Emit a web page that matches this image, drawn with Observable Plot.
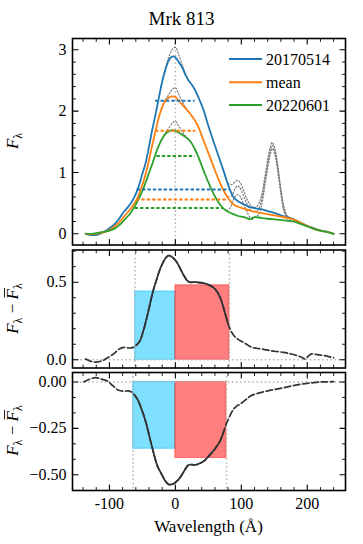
<!DOCTYPE html>
<html><head><meta charset="utf-8">
<script src="https://cdn.jsdelivr.net/npm/d3@7"></script>
<script src="https://cdn.jsdelivr.net/npm/@observablehq/plot@0.6"></script>
<style>
body{margin:0;background:#fff;}
#fig{position:relative;width:363px;height:544px;font-family:"Liberation Serif","DejaVu Serif",serif;color:#000;overflow:hidden;background:#fff;}
#fig .panel{position:absolute;left:0;}
#fig svg, #fig text{font-family:"Liberation Serif","DejaVu Serif",serif !important;}
</style></head><body><div id="fig"></div>
<script>
// ---------- data ----------
const epochs = ["20170514", "mean", "20220601"];
const epochColors = ["#1f77b4", "#ff7f0e", "#2ca02c"];

const spec20170514 = [[-136,0.00],[-128,-0.02],[-120,-0.02],[-110,0.02],[-100,0.09],[-93,0.15],[-85,0.25],[-78,0.36],[-70,0.46],[-63,0.58],[-56,0.76],[-50,0.98],[-45,1.16],[-40,1.42],[-35,1.70],[-30,1.95],[-25,2.22],[-20,2.48],[-15,2.68],[-10,2.83],[-5,2.89],[0,2.88],[5,2.80],[10,2.72],[15,2.60],[20,2.50],[25,2.43],[30,2.34],[36,2.20],[43,2.01],[50,1.76],[58,1.50],[65,1.28],[73,1.03],[80,0.80],[88,0.60],[95,0.53],[104,0.48],[112,0.44],[120,0.42],[130,0.40],[140,0.37],[150,0.34],[160,0.30],[170,0.27],[180,0.23],[190,0.18],[200,0.13],[210,0.09],[220,0.05],[230,0.03],[240,0.00]];
const specMean = [[-136,0.00],[-128,-0.01],[-120,0.00],[-110,0.02],[-100,0.06],[-93,0.11],[-85,0.19],[-78,0.28],[-70,0.38],[-63,0.48],[-56,0.62],[-50,0.80],[-45,0.98],[-40,1.20],[-35,1.45],[-30,1.68],[-25,1.90],[-20,2.07],[-15,2.17],[-10,2.22],[-5,2.24],[0,2.23],[5,2.17],[10,2.11],[15,2.05],[20,1.99],[25,1.92],[30,1.84],[35,1.74],[40,1.60],[45,1.46],[50,1.32],[58,1.09],[65,0.90],[73,0.71],[80,0.58],[88,0.48],[95,0.44],[104,0.41],[112,0.38],[120,0.36],[130,0.34],[140,0.32],[150,0.30],[160,0.28],[170,0.26],[180,0.23],[190,0.18],[200,0.13],[210,0.08],[220,0.05],[230,0.03],[240,0.00]];
const spec20220601 = [[-136,0.00],[-128,0.00],[-120,0.01],[-110,0.03],[-100,0.05],[-93,0.08],[-85,0.14],[-78,0.22],[-70,0.31],[-63,0.42],[-56,0.56],[-50,0.70],[-45,0.84],[-40,0.99],[-35,1.14],[-30,1.30],[-25,1.44],[-20,1.55],[-15,1.63],[-10,1.67],[-5,1.69],[0,1.68],[5,1.65],[10,1.62],[15,1.58],[20,1.54],[25,1.47],[30,1.37],[35,1.25],[40,1.11],[45,0.97],[50,0.84],[58,0.65],[65,0.52],[73,0.41],[80,0.36],[88,0.32],[95,0.29],[104,0.27],[112,0.24],[116,0.24],[120,0.27],[130,0.26],[140,0.245],[150,0.235],[160,0.225],[170,0.21],[180,0.20],[190,0.16],[200,0.12],[210,0.08],[220,0.05],[230,0.03],[240,0.00]];

// total (unsubtracted) spectra where they differ from the solid curves (grey dotted)
const hbTotal20170514 = [[-22,2.40],[-15,2.70],[-10,2.88],[-5,3.00],[0,3.04],[5,2.92],[10,2.77],[15,2.62],[20,2.50]];
const hbTotalMean = [[-22,2.00],[-15,2.19],[-10,2.27],[-5,2.35],[0,2.38],[5,2.28],[10,2.16],[15,2.07],[20,1.99]];
const hbTotal20220601 = [[-22,1.51],[-15,1.65],[-10,1.72],[-5,1.80],[0,1.83],[5,1.76],[10,1.67],[15,1.60],[20,1.54]];
const o3aTotal20170514 = [[80,0.82],[85,0.80],[90,0.84],[94,0.87],[98,0.84],[103,0.72],[108,0.58],[113,0.48],[118,0.43]];
const o3aTotalMean = [[80,0.60],[85,0.62],[90,0.72],[94,0.78],[98,0.75],[103,0.63],[108,0.50],[113,0.40],[118,0.36]];
const o3aTotal20220601 = [[78,0.38],[83,0.42],[88,0.55],[94,0.64],[99,0.60],[104,0.47],[109,0.35],[114,0.26],[118,0.27]];
const o3bTotal20170514 = [[120,0.42],[126,0.48],[131,0.64],[136,0.95],[141,1.27],[144,1.42],[147,1.49],[150,1.42],[153,1.28],[157,0.98],[161,0.66],[165,0.43],[170,0.29],[175,0.26]];
const o3bTotalMean = [[120,0.36],[126,0.40],[131,0.57],[136,0.88],[141,1.20],[144,1.36],[147,1.44],[150,1.37],[153,1.23],[157,0.93],[161,0.62],[165,0.39],[170,0.27],[175,0.25]];
const o3bTotal20220601 = [[120,0.27],[126,0.31],[131,0.48],[136,0.80],[141,1.13],[144,1.30],[147,1.39],[150,1.32],[153,1.18],[157,0.88],[161,0.58],[165,0.35],[170,0.24],[175,0.21]];

// width levels (dashed)
const levelEpoch = ["20170514","20170514","mean","mean","20220601","20220601"];
const levelFlux  = [2.17, 0.72, 1.68, 0.56, 1.27, 0.42];
const levelLeft  = [-30, -58, -30, -59, -28, -61];
const levelRight = [30, 83, 31, 78, 30, 73];

// difference spectra
const diffHigh = [[-136,0.005],[-128,-0.01],[-121,-0.015],[-112,-0.008],[-104,0.01],[-93,0.04],[-85,0.07],[-78,0.08],[-70,0.076],[-64,0.08],[-59,0.095],[-54,0.12],[-49,0.18],[-44,0.26],[-39,0.35],[-34,0.44],[-29,0.51],[-24,0.575],[-19,0.625],[-14,0.66],[-10,0.672],[-6,0.665],[-2,0.65],[2,0.63],[6,0.60],[10,0.565],[14,0.535],[18,0.51],[22,0.50],[30,0.50],[38,0.497],[46,0.49],[52,0.48],[58,0.465],[63,0.44],[68,0.40],[72,0.35],[76,0.29],[80,0.23],[84,0.19],[88,0.16],[94,0.135],[100,0.12],[108,0.10],[116,0.08],[130,0.07],[140,0.062],[150,0.055],[164,0.048],[175,0.038],[184,0.028],[192,0.015],[197,0.005],[202,0.025],[207,0.038],[215,0.033],[225,0.027],[233,0.02],[240,0.013]];
const diffLow = [[-139,0.0],[-130,0.015],[-121,0.023],[-112,0.015],[-103,0.005],[-95,-0.02],[-86,-0.045],[-78,-0.05],[-71,-0.048],[-66,-0.055],[-62,-0.07],[-58,-0.09],[-53,-0.13],[-48,-0.18],[-43,-0.24],[-39,-0.30],[-35,-0.355],[-31,-0.41],[-27,-0.455],[-22,-0.49],[-18,-0.517],[-14,-0.54],[-10,-0.553],[-6,-0.552],[-2.5,-0.548],[2,-0.535],[5,-0.525],[10,-0.50],[15,-0.47],[19,-0.45],[23,-0.445],[28,-0.447],[33,-0.445],[38,-0.437],[43,-0.427],[48,-0.41],[53,-0.39],[58,-0.37],[62,-0.35],[66,-0.33],[70,-0.30],[74,-0.26],[78,-0.22],[83,-0.18],[88,-0.147],[93,-0.13],[98,-0.12],[106,-0.098],[114,-0.076],[126,-0.06],[139,-0.049],[151,-0.04],[164,-0.031],[176,-0.022],[189,-0.013],[204,-0.006],[220,0.0],[230,0.0],[240,0.002]];

// windows: [blue edge, centre, red edge] and box heights [blue, red]
const highEdges = [-61, 0, 82];
const highHeights = [0.44, 0.48];
const lowEdges = [-64, 0, 77.5];
const lowHeights = [-0.36, -0.41];

// axes
const xDomain = [-156, 258];
const xMajor = [-100, 0, 100, 200];
const xMajorLabels = ["-100", "0", "100", "200"];
const xMinor = [-140,-120,-80,-60,-40,-20,20,40,60,80,120,140,160,180,220,240];
const fluxMajor = [0, 1, 2, 3];
const fluxMajorLabels = ["0", "1", "2", "3"];
const fluxMinor = [0.2,0.4,0.6,0.8,1.2,1.4,1.6,1.8,2.2,2.4,2.6,2.8];
const highMajor = [0, 0.5];
const highMajorLabels = ["0.0", "0.5"];
const highMinor = [0.1,0.2,0.3,0.4,0.6,0.7];
const lowMajor = [0, -0.25, -0.5];
const lowMajorLabels = ["0.00", "\u22120.25", "\u22120.50"];
const lowMinor = [-0.0833,-0.1667,-0.3333,-0.4167];

// ---------- build ----------
const FONT = "'Liberation Serif', 'DejaVu Serif', serif";
const specRows = [[spec20170514,"20170514"],[specMean,"mean"],[spec20220601,"20220601"]]
  .flatMap(([a,e]) => a.map(([w,f]) => ({w, f, epoch: e})));
const dottedRows = [hbTotal20170514,hbTotalMean,hbTotal20220601,o3aTotal20170514,o3aTotalMean,o3aTotal20220601,o3bTotal20170514,o3bTotalMean,o3bTotal20220601]
  .flatMap((a,i) => a.map(([w,f]) => ({w, f, seg: i})));
const levelRows = levelFlux.map((f,i) => ({f, w1: levelLeft[i], w2: levelRight[i], epoch: levelEpoch[i]}));
const toRows = a => a.map(([w,v]) => ({w, v}));

const tickShape = {draw(context, l) { context.moveTo(0, 0); context.lineTo(0, -l); }};
function frameTicks(xs, ys, len, sw) {
  const o = {length: len, anchor: "start", shape: tickShape, stroke: "black", strokeWidth: sw};
  return [
    Plot.vector(xs, {...o, x: d => d, frameAnchor: "bottom", rotate: 0}),
    Plot.vector(xs, {...o, x: d => d, frameAnchor: "top", rotate: 180}),
    Plot.vector(ys, {...o, y: d => d, frameAnchor: "left", rotate: 90}),
    Plot.vector(ys, {...o, y: d => d, frameAnchor: "right", rotate: -90})
  ];
}
function yLabels(vals, labels) {
  const m = new Map(vals.map((v,i) => [v, labels[i]]));
  return Plot.axisY(vals, {anchor: "left", tickSize: 0, tickPadding: 6, tickFormat: d => m.get(d), label: null, fontSize: 16, fontFamily: FONT});
}
const refStyle = {stroke: "#b3b3b3", strokeWidth: 1.5, strokeDasharray: "1.5,2.6"};
const baseStyle = {background: "transparent", fontFamily: FONT, fontSize: "16px", color: "black", overflow: "visible"};
const common = {width: 363, marginLeft: 72, marginRight: 18, style: baseStyle};

const fig = document.getElementById("fig");
function place(svg, top) {
  const d = document.createElement("div");
  d.className = "panel"; d.style.top = top + "px";
  d.appendChild(svg); fig.appendChild(d);
}

// top panel
place(Plot.plot({
  ...common, height: 247, marginTop: 38, marginBottom: 2.5,
  x: {domain: xDomain, axis: null},
  y: {domain: [-0.183, 3.184], label: null},
  color: {domain: epochs, range: epochColors},
  marks: [
    Plot.ruleX([0], refStyle),
    Plot.line(dottedRows, {x: "w", y: "f", z: "seg", stroke: "#7a7a7a", strokeWidth: 1.2, strokeDasharray: "1.2,2", curve: "catmull-rom"}),
    Plot.line(specRows, {x: "w", y: "f", z: "epoch", stroke: "epoch", strokeWidth: 1.8, curve: "catmull-rom"}),
    Plot.ruleY(levelRows, {y: "f", x1: "w1", x2: "w2", stroke: "epoch", strokeWidth: 2, strokeDasharray: "3.4,2"}),
    ...frameTicks(xMajor, fluxMajor, 5.5, 1.1),
    ...frameTicks(xMinor, fluxMinor, 3, 0.9),
    yLabels(fluxMajor, fluxMajorLabels),
    Plot.frame({stroke: "black", strokeWidth: 1.6})
  ]
}), 0);

function diffPanel(rowsArr, edges, heights, yDomain, major, majorLabels, minor, opts, withX) {
  const rows = toRows(rowsArr);
  const inside = rows.filter(d => d.w >= edges[0] && d.w <= edges[2]);
  const marks = [
    Plot.rect([0], {x1: edges[0], x2: edges[1], y1: 0, y2: heights[0], fill: "#00bfff", fillOpacity: 0.5, stroke: "#00bfff", strokeOpacity: 0.55, strokeWidth: 1}),
    Plot.rect([0], {x1: edges[1], x2: edges[2], y1: 0, y2: heights[1], fill: "#ff0000", fillOpacity: 0.5, stroke: "#ff0000", strokeOpacity: 0.45, strokeWidth: 1}),
    Plot.ruleY([0], refStyle),
    Plot.ruleX([edges[0], edges[2]], refStyle),
    Plot.line(rows, {x: "w", y: "v", stroke: "#333", strokeWidth: 1.7, strokeDasharray: "6.5,2.8", curve: "catmull-rom"}),
    Plot.line(inside, {x: "w", y: "v", stroke: "#333", strokeWidth: 1.7, curve: "catmull-rom"}),
    ...frameTicks(xMajor, major, 5.5, 1.1),
    ...frameTicks(xMinor, minor, 3, 0.9),
    yLabels(major, majorLabels),
    Plot.frame({stroke: "black", strokeWidth: 1.6})
  ];
  if (withX) {
    const m = new Map(xMajor.map((v,i) => [v, xMajorLabels[i]]));
    marks.push(Plot.axisX(xMajor, {anchor: "bottom", tickSize: 0, tickPadding: 7, tickFormat: d => m.get(d), label: null, fontSize: 16, fontFamily: FONT}));
  }
  return Plot.plot({
    ...common, ...opts,
    x: withX ? {domain: xDomain, label: null} : {domain: xDomain, axis: null},
    y: {domain: yDomain, label: null},
    marks
  });
}
place(diffPanel(diffHigh, highEdges, highHeights, [-0.053, 0.7075], highMajor, highMajorLabels, highMinor, {height: 122.5, marginTop: 2.5, marginBottom: 2}, false), 247);
place(diffPanel(diffLow, lowEdges, lowHeights, [-0.585, 0.051], lowMajor, lowMajorLabels, lowMinor, {height: 174.5, marginTop: 2, marginBottom: 54.5}, true), 369.5);

// ---------- overlay: title, axis labels, legend ----------
const ov = d3.create("svg").attr("width", 363).attr("height", 544)
  .style("position", "absolute").style("left", "0px").style("top", "0px")
  .attr("font-family", FONT).style("pointer-events", "none");
fig.appendChild(ov.node());
ov.append("text").attr("x", 181.5).attr("y", 25).attr("text-anchor", "middle").attr("font-size", 19).text("Mrk 813");
ov.append("text").attr("x", 208.5).attr("y", 532).attr("text-anchor", "middle").attr("font-size", 17).text("Wavelength (\u00c5)");

function ylabel(cx, cy, diff) {
  const g = ov.append("g").attr("transform", `translate(${cx},${cy}) rotate(-90)`);
  const t = g.append("text").attr("font-size", 17).attr("text-anchor", "middle");
  t.append("tspan").attr("font-style", "italic").text("F");
  t.append("tspan").attr("font-size", 12).attr("dy", 4).text("\u03bb");
  if (diff) {
    t.append("tspan").attr("dy", -4).text(" \u2212 ");
    t.append("tspan").attr("font-style", "italic").text("F");
    t.append("tspan").attr("font-size", 12).attr("dy", 4).text("\u03bb");
    const e = t.node().getExtentOfChar(5);
    g.append("line").attr("x1", e.x + 2).attr("x2", e.x + e.width + 1)
      .attr("y1", e.y + 1.5).attr("y2", e.y + 1.5).attr("stroke", "black").attr("stroke-width", 0.9);
  }
}
ylabel(18, 141, false);
ylabel(18, 308.5, true);
ylabel(18, 430.5, true);

const legY = [59, 82.3, 105];
epochs.forEach((e, i) => {
  ov.append("line").attr("x1", 229).attr("x2", 262).attr("y1", legY[i]).attr("y2", legY[i])
    .attr("stroke", epochColors[i]).attr("stroke-width", 2);
  ov.append("text").attr("x", 266).attr("y", legY[i]).attr("dy", "0.35em").attr("font-size", 16).text(e);
});
</script></body></html>
